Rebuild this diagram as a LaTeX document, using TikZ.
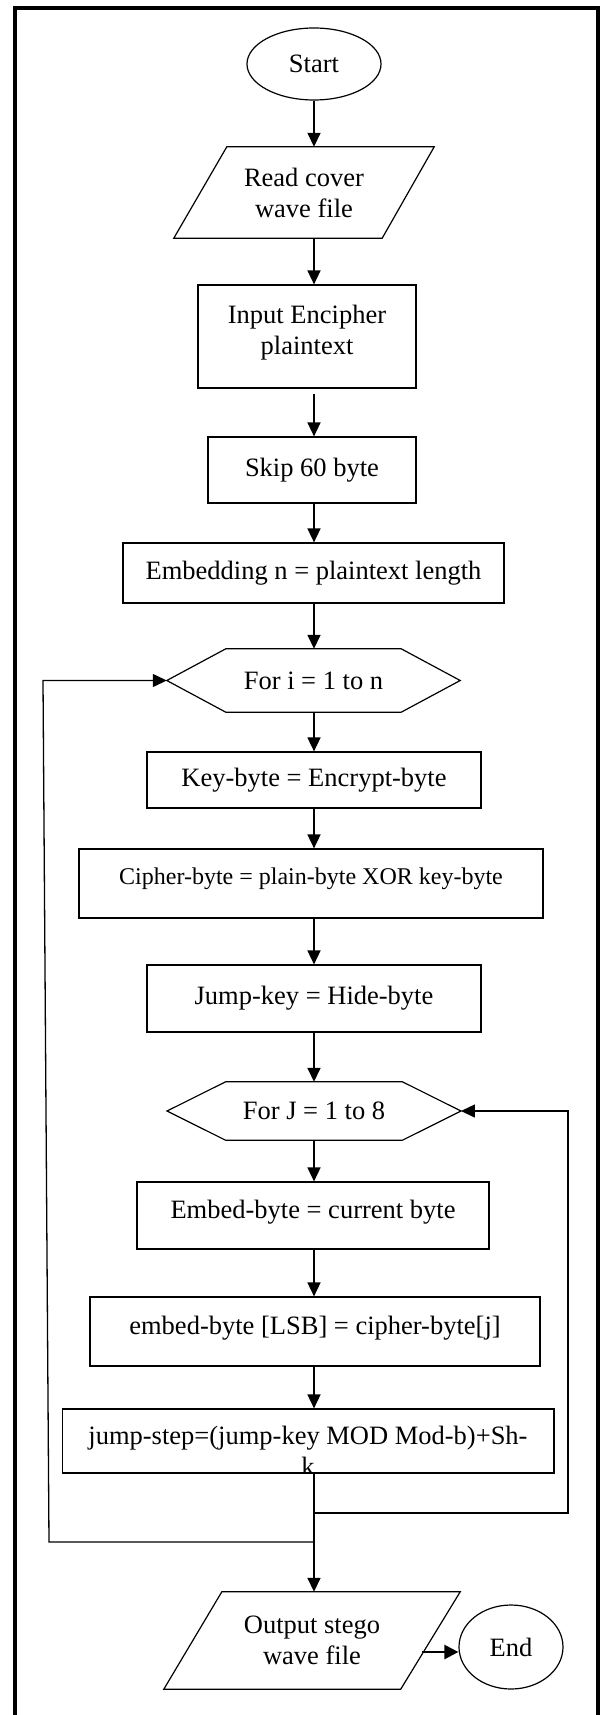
\documentclass[tikz,border=0pt]{standalone}
\usepackage{fontspec}
\setmainfont{Liberation Serif}
\usetikzlibrary{arrows.meta,shapes.geometric}
\begin{document}
\begin{tikzpicture}[x=1pt,y=-1pt,
  base/.style={inner sep=0pt, font=\fontsize{26.5}{31}\selectfont, align=center},
  small/.style={font=\fontsize{24}{28}\selectfont},
  box/.style={base, draw, line width=1.2pt, rectangle},
  oval/.style={base, draw, line width=1.2pt, ellipse},
  shell/.style={base, rectangle},
  outline/.style={line width=1.2pt, line join=miter},
  arr/.style={line width=1.6pt, -{Triangle[length=14pt,width=13pt]}},
  loopline/.style={line width=1.3pt, -{Triangle[length=14pt,width=13pt]}},
  plain/.style={line width=1.6pt},
  frameline/.style={line width=4.6pt}]
\fill[white] (0,0) rectangle (601,1715);
\useasboundingbox (0,0) rectangle (601,1715);
\clip (0,0) rectangle (601,1715);
% outer frame
\draw[frameline] (15,1740) -- (15,8) -- (598,8) -- (598,1740);
\coordinate (ax) at (314,0);
% nodes
\node[oval, minimum width=134pt, minimum height=72pt] (start) at (314,64) {Start};
\node[shell, minimum width=260pt, minimum height=91pt] (read) at (304,192.5) {Read cover\\wave file};
\draw[outline] (read.south west) -- ([xshift=53pt]read.north west) -- (read.north east) -- ([xshift=-52pt]read.south east) -- cycle;
\node[box, minimum width=218pt, minimum height=103pt, text depth=14pt] (input) at (307,336.5) {Input Encipher\\plaintext};
\node[box, minimum width=208pt, minimum height=66pt] (skip) at (312,470) {Skip 60 byte};
\node[box, minimum width=381pt, minimum height=60pt] (embn) at (313.5,573) {Embedding n = plaintext length};
\node[shell, minimum width=293pt, minimum height=63pt] (fori) at (313.5,680.5) {For i = 1 to n};
\draw[outline] (fori.west) -- ([xshift=59pt]fori.north west) -- ([xshift=-59pt]fori.north east) -- (fori.east) -- ([xshift=-59pt]fori.south east) -- ([xshift=59pt]fori.south west) -- cycle;
\node[box, minimum width=334pt, minimum height=56pt] (keyb) at (314,780) {Key-byte = Encrypt-byte};
\node[box, small, minimum width=464pt, minimum height=69pt, text depth=14pt] (ciph) at (311,883.5) {Cipher-byte = plain-byte XOR key-byte};
\node[box, minimum width=334pt, minimum height=67pt] (jkey) at (314,998.5) {Jump-key = Hide-byte};
\node[shell, minimum width=293.5pt, minimum height=58pt] (forj) at (314,1111) {For J = 1 to 8};
\draw[outline] (forj.west) -- ([xshift=58.5pt]forj.north west) -- ([xshift=-58.5pt]forj.north east) -- (forj.east) -- ([xshift=-58.5pt]forj.south east) -- ([xshift=58.5pt]forj.south west) -- cycle;
\node[box, minimum width=352pt, minimum height=67pt, text depth=12pt] (embb) at (313,1215.5) {Embed-byte = current byte};
\node[box, minimum width=450pt, minimum height=69pt, text depth=12pt] (lsb) at (315,1331.5) {embed-byte [LSB] = cipher-byte[j]};
\node[box, minimum width=491.5pt, minimum height=64pt] (jstep) at (308.25,1441) {};
\begin{scope}
\clip (jstep.north west) rectangle ([yshift=0.7pt]jstep.south east);
\node[base, anchor=base] (jsteptext) at (308,1444) {jump-step=(jump-key MOD Mod-b)+Sh-};
\node[base, anchor=base] (jstepk) at (308,1475) {k};
\end{scope}
\node[shell, minimum width=296pt, minimum height=97pt] (out) at (312,1640.5) {Output stego\\wave file};
\draw[outline] (out.south west) -- ([xshift=58pt]out.north west) -- (out.north east) -- ([xshift=-59.5pt]out.south east) -- cycle;
\node[oval, minimum width=104pt, minimum height=84pt] (end) at (511,1647) {End};
% junctions and loop corners
\coordinate (j1) at (314,1513);
\coordinate (j2) at (314,1542);
\coordinate (lb) at (49,1542);
\coordinate (lt) at (43,680.5);
\coordinate (rb) at (568,1513);
\coordinate (rt) at (568,1111);
\coordinate (outr) at (421.6,1652);
% connectors
\draw[arr] (start.south) -- (ax |- read.north);
\draw[arr] (ax |- read.south) -- (ax |- input.north);
\draw[arr, shorten <=5pt] (ax |- input.south) -- (ax |- skip.north);
\draw[arr] (ax |- skip.south) -- (ax |- embn.north);
\draw[arr] (ax |- embn.south) -- (ax |- fori.north);
\draw[arr] (ax |- fori.south) -- (ax |- keyb.north);
\draw[arr] (ax |- keyb.south) -- (ax |- ciph.north);
\draw[arr] (ax |- ciph.south) -- (ax |- jkey.north);
\draw[arr] (ax |- jkey.south) -- (ax |- forj.north);
\draw[arr] (ax |- forj.south) -- (ax |- embb.north);
\draw[arr] (ax |- embb.south) -- (ax |- lsb.north);
\draw[arr] (ax |- lsb.south) -- (ax |- jstep.north);
\draw[plain] (ax |- jstep.south) -- (j1) -- (j2);
\draw[arr] (j2) -- (ax |- out.north);
\draw[loopline] (j1) -- (rb) -- (rt) -- (forj.east);
\draw[loopline] (j2) -- (lb) -- (lt) -- (fori.west);
\draw[line width=2.4pt, -{Triangle[length=14pt,width=14pt]}] (outr) -- (outr -| end.west);
\end{tikzpicture}
\end{document}
